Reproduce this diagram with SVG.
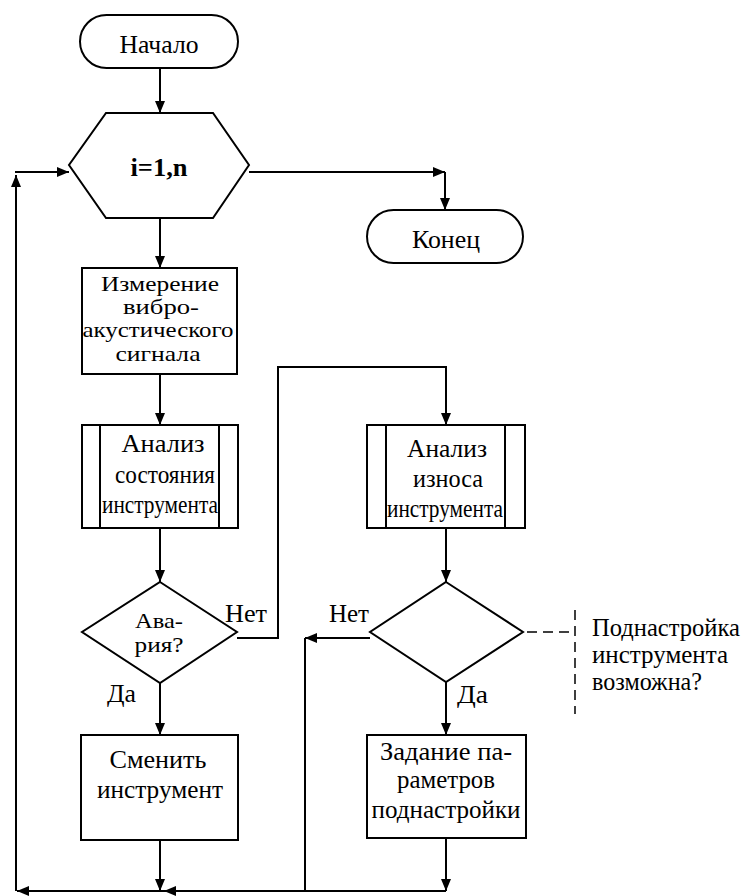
<svg xmlns="http://www.w3.org/2000/svg" width="751" height="896" viewBox="0 0 751 896" font-family="Liberation Serif, Times New Roman, DejaVu Serif, serif" font-size="25">
<style>
.s{fill:#fff;stroke:#000;stroke-width:2}
.l{fill:none;stroke:#000;stroke-width:2}
.d{fill:none;stroke:#000;stroke-width:1.5;stroke-dasharray:10,6}
.c{text-anchor:middle}
.m{font-size:21px}
</style>
<defs>
<marker id="a" markerWidth="12" markerHeight="10" refX="12" refY="5" orient="auto" markerUnits="userSpaceOnUse">
<path d="M0,0 L12,5 L0,10 z" fill="#000"/>
</marker>
</defs>
<rect width="751" height="896" fill="#fff"/>
<g id="connectors">
<path class="l" d="M160,68 V113" marker-end="url(#a)"/>
<path class="l" d="M160,218 V268" marker-end="url(#a)"/>
<path class="l" d="M160,374 V425" marker-end="url(#a)"/>
<path class="l" d="M160,528 V582" marker-end="url(#a)"/>
<path class="l" d="M160,683 V735" marker-end="url(#a)"/>
<path class="l" d="M160,840 V891" marker-end="url(#a)"/>
<path class="l" d="M249,172 H445" marker-end="url(#a)"/>
<path class="l" d="M445,172 V210" marker-end="url(#a)"/>
<path class="l" d="M237,638 H278 V367 H446 V425" marker-end="url(#a)"/>
<path class="l" d="M446,528 V582" marker-end="url(#a)"/>
<path class="l" d="M446,682 V735" marker-end="url(#a)"/>
<path class="l" d="M446,838 V891" marker-end="url(#a)"/>
<path class="l" d="M370,638 H305" marker-end="url(#a)"/>
<path class="l" d="M305,638 V891"/>
<path class="l" d="M446,891 H164" marker-end="url(#a)"/>
<path class="l" d="M164,891 H17" marker-end="url(#a)"/>
<path class="l" d="M16,891 V175" marker-end="url(#a)"/>
<path class="l" d="M15,172 H69" marker-end="url(#a)"/>
<path class="d" d="M527,632 H572"/>
<path class="d" d="M575,610 V714"/>
</g>
<g id="start">
<rect class="s" x="80" y="15" width="158" height="53" rx="26.5"/>
<text class="c" x="159" y="53" textLength="79" lengthAdjust="spacingAndGlyphs">Начало</text>
</g>
<g id="loop">
<polygon class="s" points="106,113 213,113 249,165 213,218 106,218 69,165"/>
<text class="c" x="159" y="176" font-weight="bold" textLength="57" lengthAdjust="spacingAndGlyphs">i=1,n</text>
</g>
<g id="end">
<rect class="s" x="367" y="210" width="156" height="53" rx="26.5"/>
<text class="c" x="446" y="248" textLength="68" lengthAdjust="spacingAndGlyphs">Конец</text>
</g>
<g id="measure">
<rect class="s" x="82" y="268" width="155" height="106"/>
<text class="c m" x="160" y="291" textLength="118" lengthAdjust="spacingAndGlyphs">Измерение</text>
<text class="c m" x="161" y="314" textLength="76" lengthAdjust="spacingAndGlyphs">вибро-</text>
<text class="c m" x="158" y="337" textLength="151" lengthAdjust="spacingAndGlyphs">акустического</text>
<text class="c m" x="158" y="361" textLength="85" lengthAdjust="spacingAndGlyphs">сигнала</text>
</g>
<g id="analysis-state">
<rect class="s" x="82" y="425" width="156" height="103"/>
<path class="l" d="M100,425 V528 M219,425 V528"/>
<text class="c" x="163" y="452" textLength="83" lengthAdjust="spacingAndGlyphs">Анализ</text>
<text class="c" x="165" y="483" textLength="100" lengthAdjust="spacingAndGlyphs">состояния</text>
<text class="c" x="160" y="513" textLength="116" lengthAdjust="spacingAndGlyphs">инструмента</text>
</g>
<g id="accident">
<polygon class="s" points="160,582 237,632 160,683 82,632"/>
<text class="c m" x="159" y="628" textLength="48" lengthAdjust="spacingAndGlyphs">Ава-</text>
<text class="c m" x="159" y="652" textLength="49" lengthAdjust="spacingAndGlyphs">рия?</text>
<text x="225" y="622" textLength="42" lengthAdjust="spacingAndGlyphs">Нет</text>
<text x="107" y="702" textLength="29" lengthAdjust="spacingAndGlyphs">Да</text>
</g>
<g id="analysis-wear">
<rect class="s" x="367" y="425" width="158" height="103"/>
<path class="l" d="M386,425 V528 M505,425 V528"/>
<text class="c" x="447" y="457" textLength="80" lengthAdjust="spacingAndGlyphs">Анализ</text>
<text class="c" x="448" y="487" textLength="70" lengthAdjust="spacingAndGlyphs">износа</text>
<text class="c" x="445" y="517" textLength="116" lengthAdjust="spacingAndGlyphs">инструмента</text>
</g>
<g id="adjust-possible">
<polygon class="s" points="446,582 523,632 446,682 370,632"/>
<text x="329" y="622" textLength="40" lengthAdjust="spacingAndGlyphs">Нет</text>
<text x="457" y="703" textLength="31" lengthAdjust="spacingAndGlyphs">Да</text>
</g>
<g id="comment">
<text x="592" y="636" textLength="148" lengthAdjust="spacingAndGlyphs">Поднастройка</text>
<text x="592" y="663" textLength="136" lengthAdjust="spacingAndGlyphs">инструмента</text>
<text x="592" y="690" textLength="110" lengthAdjust="spacingAndGlyphs">возможна?</text>
</g>
<g id="replace">
<rect class="s" x="81" y="735" width="157" height="105"/>
<text class="c" x="158" y="768" textLength="97" lengthAdjust="spacingAndGlyphs">Сменить</text>
<text class="c" x="160" y="798" textLength="126" lengthAdjust="spacingAndGlyphs">инструмент</text>
</g>
<g id="set-params">
<rect class="s" x="367" y="735" width="159" height="103"/>
<text class="c" x="446" y="760" textLength="132" lengthAdjust="spacingAndGlyphs">Задание па-</text>
<text class="c" x="446" y="788" textLength="98" lengthAdjust="spacingAndGlyphs">раметров</text>
<text class="c" x="446" y="818" textLength="149" lengthAdjust="spacingAndGlyphs">поднастройки</text>
</g>
</svg>
